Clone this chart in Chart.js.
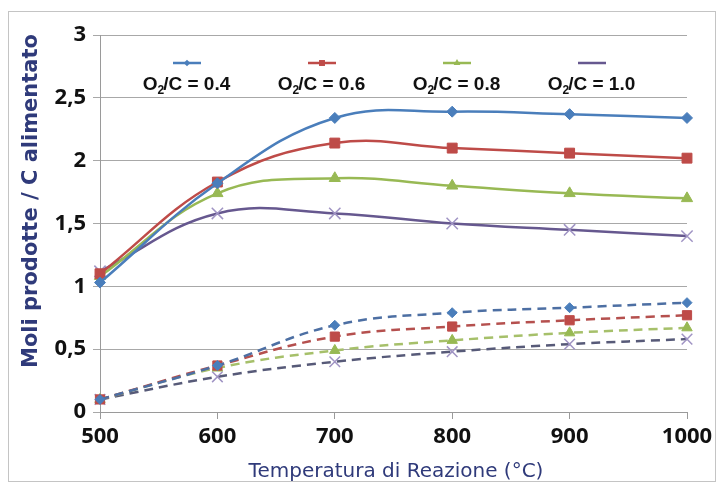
<!DOCTYPE html>
<html><head><meta charset="utf-8">
<script src="https://cdn.jsdelivr.net/npm/chart.js@4/dist/chart.umd.min.js"></script>
<style>html,body{margin:0;padding:0;background:#fff}#wrap{width:718px;height:486px;position:relative}</style>
</head><body><div id="wrap"><canvas id="c" width="718" height="486"></canvas></div>
<script>
const temperatures = [500, 600, 700, 800, 900, 1000];
const ratios = ['0.4', '0.6', '0.8', '1.0'];
const solid04 = [1.03, 1.82, 2.34, 2.39, 2.37, 2.34];
const solid06 = [1.10, 1.83, 2.14, 2.10, 2.06, 2.02];
const solid08 = [1.08, 1.74, 1.86, 1.80, 1.74, 1.70];
const solid10 = [1.12, 1.58, 1.58, 1.50, 1.45, 1.40];
const dashed04 = [0.10, 0.37, 0.69, 0.79, 0.83, 0.87];
const dashed06 = [0.10, 0.37, 0.60, 0.68, 0.73, 0.77];
const dashed08 = [0.10, 0.35, 0.49, 0.57, 0.63, 0.67];
const dashed10 = [0.10, 0.28, 0.40, 0.48, 0.54, 0.58];
const xTickLabels = ['500', '600', '700', '800', '900', '1000'];
const yTickLabels = ['0', '0,5', '1', '1,5', '2', '2,5', '3'];
const xTitle = 'Temperatura di Reazione (°C)';
const yTitle = 'Moli prodotte / C alimentato';

const lineColors = ['#4a7ebb', '#be4b48', '#98b954', '#66588f'];
const dashColors = ['#4d6fa3', '#b5504e', '#a6c06a', '#575a78'];
const markerColors = ['#4a7ebb', '#be4b48', '#98b954', '#a094c4'];
const styles = ['rectRot', 'rect', 'triangle', 'crossRot'];
const radii = [5.5, 7, 6.5, 8];
const solidSets = [solid04, solid06, solid08, solid10];
const dashSets = [dashed04, dashed06, dashed08, dashed10];
const titleColor = '#2f3a7a';

function pts(arr) { return arr.map((v, i) => ({x: temperatures[i], y: v})); }

const datasets = [];
dashSets.forEach((d, i) => datasets.push({
  data: pts(d), borderColor: dashColors[i], borderWidth: 2.5, borderDash: [9, 6],
  pointStyle: styles[i], pointRadius: radii[i] - 0.5, pointBackgroundColor: markerColors[i],
  pointBorderColor: markerColors[i], pointBorderWidth: i === 3 ? 1.5 : 1, tension: 0.4, clip: false
}));
solidSets.forEach((d, i) => datasets.push({
  data: pts(d), borderColor: lineColors[i], borderWidth: 2.5,
  pointStyle: styles[i], pointRadius: radii[i], pointBackgroundColor: markerColors[i],
  pointBorderColor: markerColors[i], pointBorderWidth: i === 3 ? 1.5 : 1, tension: 0.4, clip: false
}));

const decor = {
  id: 'decor',
  afterDraw(chart) {
    const ctx = chart.ctx;
    ctx.save();
    ctx.strokeStyle = '#c4c4c4'; ctx.lineWidth = 1;
    ctx.strokeRect(8.5, 11.5, 707, 470);
    // legend
    for (let i = 0; i < ratios.length; i++) {
      const cx = 187 + i * 135;
      ctx.strokeStyle = lineColors[i]; ctx.lineWidth = 2.5; ctx.setLineDash([]);
      ctx.beginPath(); ctx.moveTo(cx - 14, 63); ctx.lineTo(cx + 14, 63); ctx.stroke();
      ctx.fillStyle = markerColors[i]; ctx.strokeStyle = markerColors[i]; ctx.lineWidth = 1.2;
      Chart.helpers.drawPoint(ctx, {pointStyle: styles[i], radius: radii[i] * 0.6, rotation: 0}, cx, 63);
      ctx.fillStyle = '#111';
      const big = 'bold 19px "Liberation Sans"', small = 'bold 12px "Liberation Sans"';
      const p1 = 'O', p2 = '2', p3 = '/C = ' + ratios[i];
      ctx.font = big; const w1 = ctx.measureText(p1).width, w3 = ctx.measureText(p3).width;
      ctx.font = small; const w2 = ctx.measureText(p2).width;
      let x = cx - (w1 + w2 + w3) / 2;
      ctx.textAlign = 'left'; ctx.textBaseline = 'alphabetic';
      ctx.font = big; ctx.fillText(p1, x, 90); x += w1;
      ctx.font = small; ctx.fillText(p2, x, 94); x += w2 - 1;
      ctx.font = big; ctx.fillText(p3, x, 90);
    }
    // titles
    ctx.fillStyle = titleColor;
    ctx.font = '20px "DejaVu Sans"';
    ctx.textAlign = 'center'; ctx.textBaseline = 'alphabetic';
    ctx.fillText(xTitle, 396, 477);
    ctx.translate(37, 201); ctx.rotate(-Math.PI / 2);
    ctx.font = 'bold 21px "DejaVu Sans"';
    ctx.fillText(yTitle, 0, 0);
    ctx.restore();
  }
};

new Chart(document.getElementById('c'), {
  type: 'line',
  data: {datasets},
  plugins: [decor],
  options: {
    responsive: false, animation: false, devicePixelRatio: 1,
    layout: {padding: {left: 0, top: 35, right: 31, bottom: 0}},
    plugins: {legend: {display: false}, tooltip: {enabled: false}},
    scales: {
      x: {
        type: 'linear', min: 500, max: 1000,
        afterFit(s) { s.height = 74; },
        grid: {drawOnChartArea: false, drawTicks: true, tickLength: 7, color: '#9a9a9a'},
        border: {color: '#9a9a9a', width: 1},
        ticks: {stepSize: 100, padding: 5, color: '#111', font: {family: 'Open Sans', weight: 'bold', size: 22},
          callback: (v) => xTickLabels[temperatures.indexOf(v)] }
      },
      y: {
        min: 0, max: 3,
        afterFit(s) { s.width = 100; },
        grid: {drawTicks: true, tickLength: 7, color: '#a8a8a8'},
        border: {color: '#9a9a9a', width: 1},
        ticks: {stepSize: 0.5, padding: 7, color: '#111', font: {family: 'Open Sans', weight: 'bold', size: 22},
          callback: (v) => yTickLabels[Math.round(v * 2)] }
      }
    }
  }
});
</script></body></html>
